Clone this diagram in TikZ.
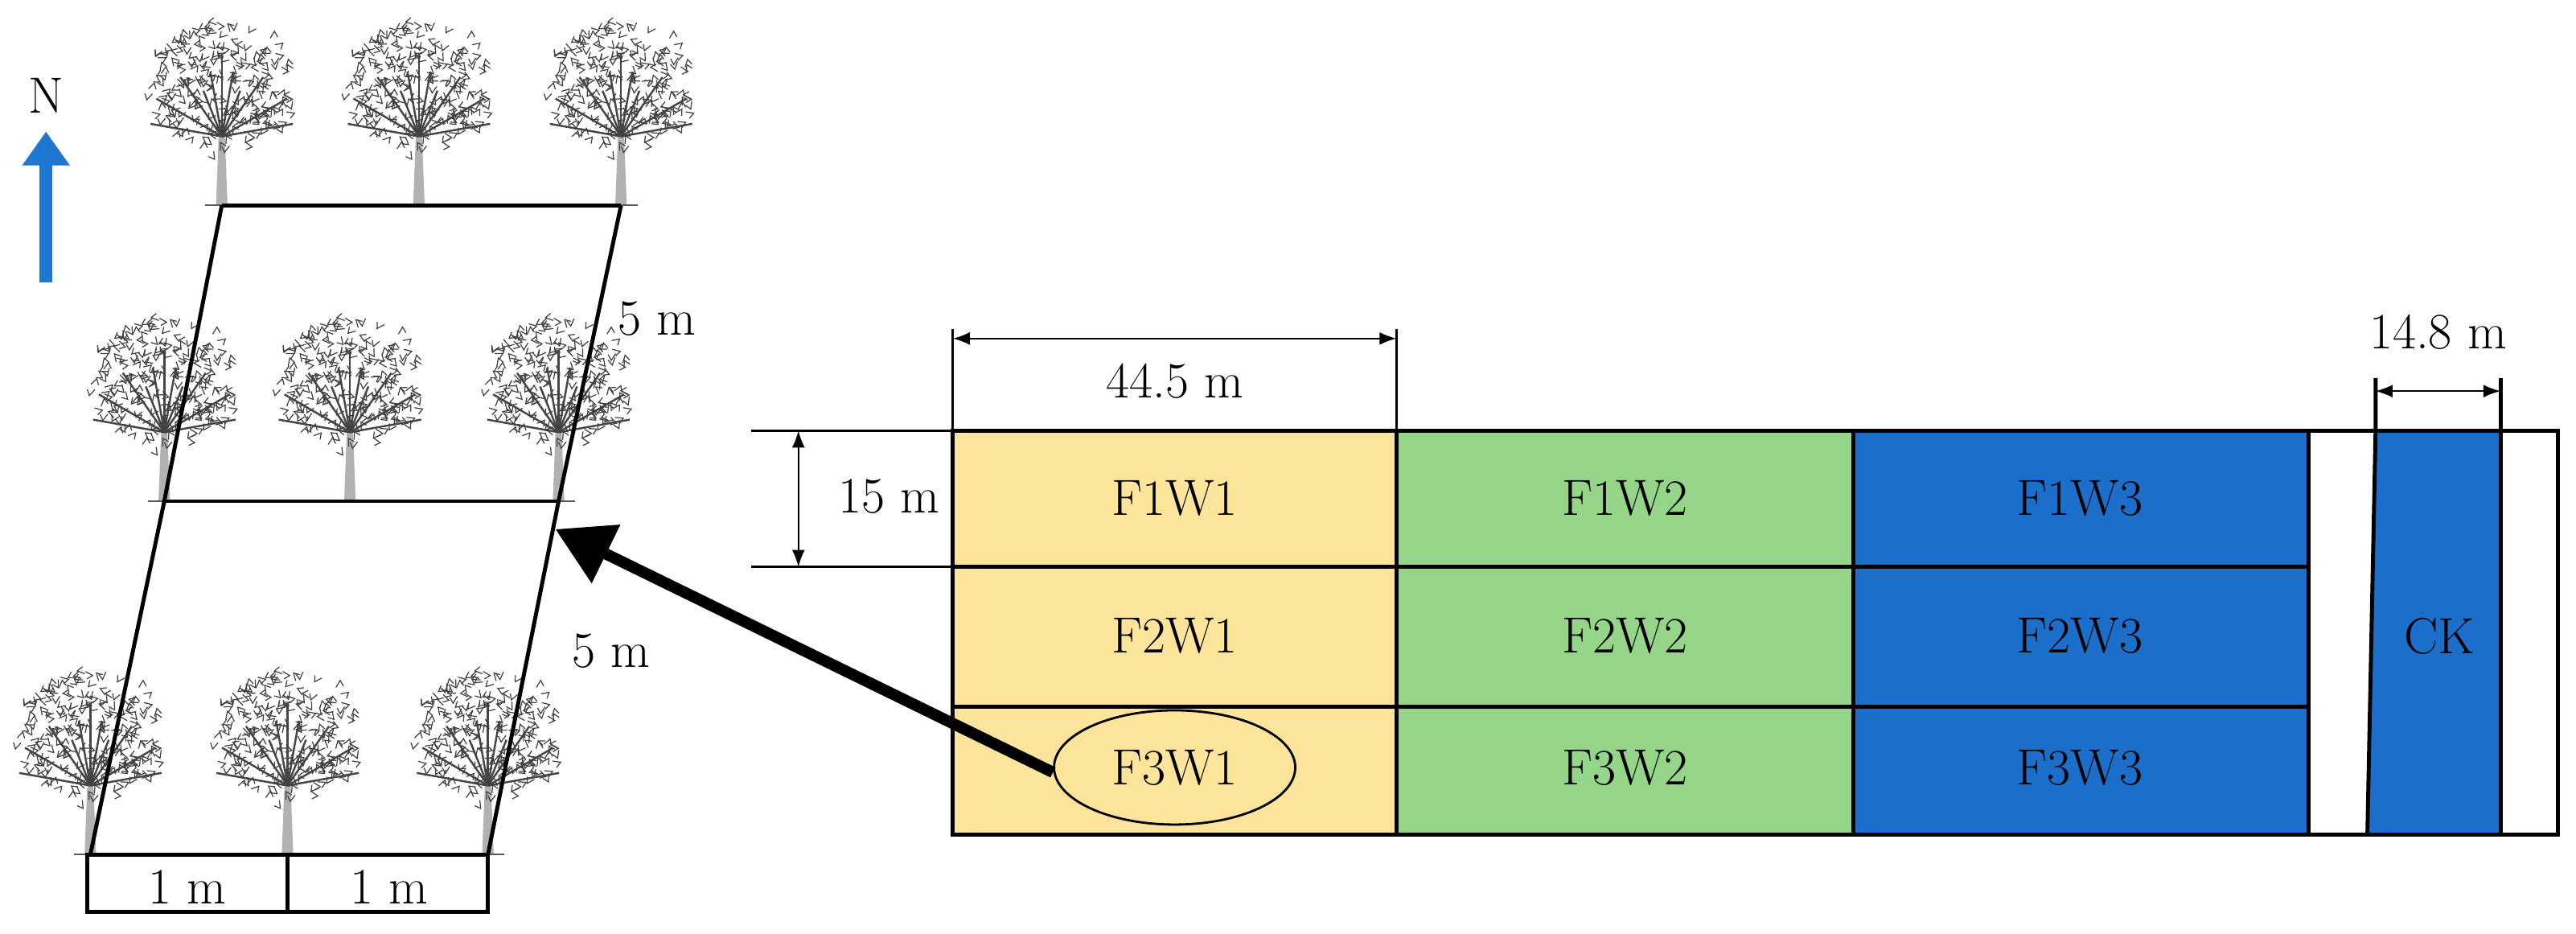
\documentclass[tikz,border=0pt]{standalone}
\usetikzlibrary{arrows.meta,shapes.geometric}
\definecolor{yel}{HTML}{FDE49B}
\definecolor{grn}{HTML}{94D58A}
\definecolor{blu}{HTML}{1B6FCB}
\definecolor{nblue}{HTML}{1E78D2}
\tikzset{
  plotline/.style={line width=1.4pt},
  lbl/.style={font=\fontsize{18}{21}\selectfont},
  dimline/.style={line width=0.5pt,{Latex[length=6pt]}-{Latex[length=6pt]}},
  tree/.pic={
    \fill[gray!60] (-3.5,0) -- (-1.8,-45) -- (1.8,-45) -- (3.5,0) -- cycle;
    \draw[gray!70!black,line width=0.5pt] (-10,0) -- (10,0);
    \foreach \a/\l in {100/40,80/40,125/44,55/44,150/46,30/46,170/44,10/44,112/30,68/30,90/50}{
      \draw[gray!55!black,line width=0.7pt] (0,-42) -- ++(\a:-\l);
    }
    \pgfmathsetseed{7}
    \foreach \i in {1,...,230}{
      \pgfmathsetmacro\ang{rand*180+180}
      \pgfmathsetmacro\rr{sqrt(rnd)}
      \pgfmathsetmacro\dx{cos(\ang)*46*\rr}
      \pgfmathsetmacro\dy{sin(\ang)*40*\rr}
      \pgfmathsetmacro\tt{rand*180}
      \draw[gray!50!black,line width=0.35pt] (\dx,-72+\dy) -- ++(\tt:5) -- ++(\tt+120:4);
    }
  }
}
\begin{document}
\begin{tikzpicture}[x=0.02043cm,y=-0.02043cm]
\useasboundingbox (0,0) rectangle (1568,568);
% north arrow
\node[lbl] (N) at (28,58) {N};
\coordinate (na) at (28,172);
\coordinate (nb) at (28,80);
\draw[nblue,line width=4.5pt,-{Triangle[length=12pt,width=16pt]}] (na) -- (nb);
% trees
\foreach \x/\y in {135/125,255/125,378/125,100/305,213/305,340/305,55/520,175/520,297/520}{
  \pic at (\x,\y) {tree};
}
% plot lines
\coordinate (t1) at (135,125); \coordinate (t2) at (378,125);
\coordinate (m1) at (100,305); \coordinate (m2) at (340,305);
\coordinate (b1) at (55,520); \coordinate (b2) at (297,520);
\draw[plotline] (t1) -- (t2) (m1) -- (m2) (b1) -- (b2);
\draw[plotline] (t1) -- (m1) -- (b1) (t2) -- (m2) -- (b2);
\draw[plotline] (53,520) rectangle (297,555) (175,520) -- (175,555);
\node[lbl] (l5a) at (400,194) {5 m};
\node[lbl] (l5b) at (372,396) {5 m};
\node[lbl] (l1a) at (114,540) {1 m};
\node[lbl] (l1b) at (237,540) {1 m};
% field
\fill[yel] (580,262) rectangle (850,508);
\fill[grn] (850,262) rectangle (1128,508);
\fill[blu] (1128,262) rectangle (1405,508);
\fill[blu] (1446,262) -- (1522,262) -- (1522,508) -- (1441,508) -- cycle;
\draw[plotline] (580,262) rectangle (1557,508);
\draw[plotline] (850,262) -- (850,508) (1128,262) -- (1128,508) (1405,262) -- (1405,508);
\draw[plotline] (580,345) -- (1405,345) (580,430) -- (1405,430);
\draw[plotline] (1446,230) -- (1446,262) -- (1441,508);
\draw[plotline] (1522,230) -- (1522,508);
\foreach \n/\x/\y in {F1W1/715/303,F1W2/989/303,F1W3/1266/303,F2W1/715/387,F2W2/989/387,F2W3/1266/387,F3W2/989/467,F3W3/1266/467}{
  \node[lbl] (\n) at (\x,\y) {\n};
}
\node[lbl,ellipse,draw,line width=0.8pt,minimum width=3.0cm,minimum height=1.42cm,inner sep=0pt] (F3W1) at (715,467) {F3W1};
\node[lbl] (CK) at (1485,387) {CK};
% dimensions
\draw[line width=0.8pt] (580,200) -- (580,262) (850,200) -- (850,262);
\draw[dimline] (580,206) -- (850,206);
\node[lbl] (d44) at (715,232) {44.5 m};
\draw[line width=0.8pt] (457,262) -- (580,262) (457,345) -- (580,345);
\draw[dimline] (486,262) -- (486,345);
\node[lbl] (d15) at (541,302) {15 m};
\draw[dimline] (1446,238) -- (1522,238);
\node[lbl] (d148) at (1484,202) {14.8 m};
% pointer
\coordinate (pt) at (338,322);
\draw[line width=4pt,-{Triangle[length=20pt,width=22pt]}] (F3W1.west) ++(0,3) -- (pt);
\end{tikzpicture}
\end{document}
